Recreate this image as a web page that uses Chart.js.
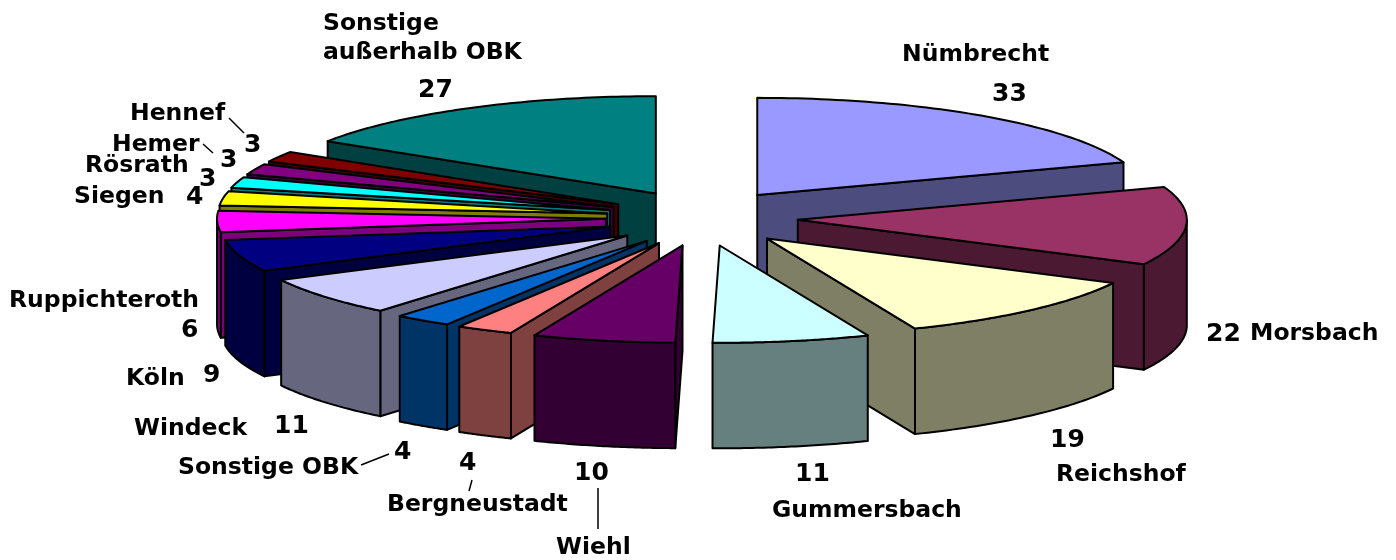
<!DOCTYPE html>
<html>
<head>
<meta charset="utf-8">
<style>
  html, body { margin: 0; padding: 0; background: #fff; }
  #wrap { position: relative; width: 1396px; height: 560px; }
</style>
<script src="https://cdn.jsdelivr.net/npm/chart.js@4"></script>
</head>
<body>
<div id="wrap"><canvas id="chart"></canvas></div>
<script>
const categories = ['Nümbrecht', 'Morsbach', 'Reichshof', 'Gummersbach', 'Wiehl', 'Bergneustadt', 'Sonstige OBK',
  'Windeck', 'Köln', 'Ruppichteroth', 'Siegen', 'Rösrath', 'Hemer', 'Hennef', 'Sonstige außerhalb OBK'];
const values = [33, 22, 19, 11, 10, 4, 4, 11, 9, 6, 4, 3, 3, 3, 27];
const topColors = ['#9999FF', '#993366', '#FFFFCC', '#CCFFFF', '#660066', '#FF8080', '#0066CC',
  '#CCCCFF', '#000080', '#FF00FF', '#FFFF00', '#00FFFF', '#800080', '#800000', '#008080'];

// 3d look of the pie
const squash = 0.25;
const depth = 105.5;
const explodeX = 96;
const explodeY = 28;

// name lines + value position, [x, baseline y] in page pixels
const nameSpots = [
  [[902, 61]], [[1250, 340]], [[1056, 481]], [[772, 517]], [[556, 554]], [[387, 511]], [[178, 474]],
  [[134, 435]], [[126, 385]], [[9, 307]], [[74, 203]], [[85, 172]], [[112, 151]], [[130, 120]],
  [[323, 30], [323, 59]]
];
const nameLines = categories.map(c => c === 'Sonstige außerhalb OBK' ? ['Sonstige', 'außerhalb OBK'] : [c]);
const valueSpots = [
  [992, 101], [1206, 341], [1050, 447], [795, 481], [574, 480], [459, 470], [394, 459],
  [274, 433], [203, 382], [181, 337], [186, 204], [199, 186], [220, 167], [244, 152], [418, 97]
];
const leaders = [
  [229, 118, 244, 133], [203, 144, 213, 153], [361, 465, 389, 454], [472, 480, 469, 491], [598, 488, 598, 529]
];

function darker(hex) {
  const n = parseInt(hex.slice(1), 16);
  return 'rgb(' + ((n >> 16) >> 1) + ',' + (((n >> 8) & 255) >> 1) + ',' + ((n & 255) >> 1) + ')';
}

const pie3d = {
  id: 'pie3d',
  // we draw the arcs ourselves, back to front
  beforeDatasetsDraw(chart) {
    const ctx = chart.ctx;
    const arcs = chart.getDatasetMeta(0).data;
    const order = arcs.map((a, i) => i).sort((p, q) => {
      const mp = (arcs[p].startAngle + arcs[p].endAngle) / 2;
      const mq = (arcs[q].startAngle + arcs[q].endAngle) / 2;
      return Math.sin(mp) - Math.sin(mq);
    });

    ctx.save();
    ctx.lineJoin = 'round';
    ctx.lineWidth = 2;
    ctx.strokeStyle = '#000';
    order.forEach(i => {
      const arc = arcs[i];
      const a0 = arc.startAngle, a1 = arc.endAngle, r = arc.outerRadius;
      const mid = (a0 + a1) / 2;
      const tipX = arc.x + Math.cos(mid) * explodeX;
      const tipY = arc.y + Math.sin(mid) * explodeY;
      const px = a => tipX + Math.cos(a) * r;
      const py = a => tipY + Math.sin(a) * r * squash;

      // side walls that look at the viewer
      const side = darker(topColors[i]);
      ctx.fillStyle = side;
      const wall = a => {
        ctx.beginPath();
        ctx.moveTo(tipX, tipY);
        ctx.lineTo(px(a), py(a));
        ctx.lineTo(px(a), py(a) + depth);
        ctx.lineTo(tipX, tipY + depth);
        ctx.closePath();
        ctx.fill();
        ctx.stroke();
      };
      if (Math.cos(a0) < 0) wall(a0);
      if (Math.cos(a1) > 0) wall(a1);
      const from = Math.max(a0, 0), to = Math.min(a1, Math.PI);
      if (to > from) {
        ctx.beginPath();
        for (let s = 0; s <= 40; s++) {
          const a = from + (to - from) * s / 40;
          ctx.lineTo(px(a), py(a));
        }
        for (let s = 40; s >= 0; s--) {
          const a = from + (to - from) * s / 40;
          ctx.lineTo(px(a), py(a) + depth);
        }
        ctx.closePath();
        ctx.fill();
        ctx.stroke();
      }

      // top face, the library's own arc just flattened
      ctx.save();
      ctx.translate(tipX, tipY);
      ctx.scale(1, squash);
      ctx.translate(-arc.x, -arc.y);
      arc.draw(ctx);
      ctx.restore();

      ctx.beginPath();
      ctx.moveTo(tipX, tipY);
      for (let s = 0; s <= 60; s++) {
        const a = a0 + (a1 - a0) * s / 60;
        ctx.lineTo(px(a), py(a));
      }
      ctx.closePath();
      ctx.stroke();
    });
    ctx.restore();
    return false;
  },
  afterDraw(chart) {
    const ctx = chart.ctx;
    ctx.save();
    ctx.fillStyle = '#000';
    ctx.textBaseline = 'alphabetic';
    categories.forEach((c, i) => {
      ctx.font = 'bold 23.5px "DejaVu Sans"';
      nameLines[i].forEach((line, k) => ctx.fillText(line, nameSpots[i][k][0], nameSpots[i][k][1]));
      ctx.font = 'bold 25px "DejaVu Sans"';
      ctx.fillText(String(values[i]), valueSpots[i][0], valueSpots[i][1]);
    });
    ctx.strokeStyle = '#000';
    ctx.lineWidth = 1.5;
    leaders.forEach(l => {
      ctx.beginPath();
      ctx.moveTo(l[0], l[1]);
      ctx.lineTo(l[2], l[3]);
      ctx.stroke();
    });
    ctx.restore();
  }
};

new Chart(document.getElementById('chart'), {
  type: 'pie',
  data: {
    labels: categories,
    datasets: [{ data: values, backgroundColor: topColors, borderWidth: 0 }]
  },
  options: {
    responsive: true,
    maintainAspectRatio: false,
    animation: false,
    radius: 389,
    layout: { padding: { left: 8, bottom: 124 } },
    plugins: { legend: { display: false }, tooltip: { enabled: false } }
  },
  plugins: [pie3d]
});
</script>
</body>
</html>
